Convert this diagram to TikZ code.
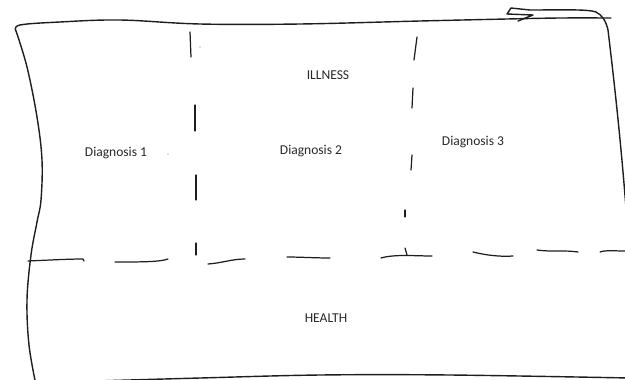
\documentclass[tikz,border=0pt]{standalone}
\usepackage{fontspec}
\setmainfont{Carlito}
\usepackage{xcolor}
\usepackage{tikz}
\usetikzlibrary{positioning, calc}
\definecolor{pencil}{RGB}{30, 30, 30}
\definecolor{printed}{RGB}{40, 40, 40}

\tikzset{
    pen/.style={line width=0.8pt, line cap=round, line join=round, pencil},
    dashpen/.style={line width=0.7pt, line cap=round, pencil},
    areatext/.style={font=\fontsize{7.7}{9}\selectfont, text=printed, inner sep=0pt}
}

\begin{document}
\begin{tikzpicture}[x=0.02cm, y=-0.02cm]
    \useasboundingbox (0,0) rectangle (625,379);
    \begin{scope}
    \clip (0,0) rectangle (625,379);
    % Outline
    \draw[pen] plot[smooth, tension=0.6] coordinates {(16,31) (27,67) (37,117) (42,160) (41,200) (37,222) (31,255) (27,300) (29,345) (36,385)};
    \draw[pen] plot[smooth, tension=0.6] coordinates {(16,31) (20,25) (60,22) (120,20) (200,24) (300,24) (420,21) (507,19) (560,18) (611,18)};
    \draw[pen] (518,21) -- (533,15) -- (507,14) -- (511,8) -- (530,10)
        .. controls (560,10) and (588,9) .. (596,12)
        .. controls (602,15) and (606,21) .. (608,30)
        .. controls (614,80) and (622,150) .. (628,235);
    \draw[pen] plot[smooth, tension=0.6] coordinates {(95,381) (200,378) (320,375) (450,375) (630,378)};
    \end{scope}

    % Dashed line between illness and health
    \draw[dashpen] (28,261) .. controls (50,260) and (70,259) .. (83,259) -- (84,261);
    \draw[dashpen] (115,262) .. controls (140,262) and (160,262) .. (168,259);
    \draw[dashpen] (208,264) .. controls (222,263) and (232,259) .. (245,259);
    \draw[dashpen] (287,257) .. controls (300,257) and (315,258) .. (330,258);
    \draw[dashpen] (381,258) .. controls (395,254) and (415,256) .. (432,256);
    \draw[dashpen] (405,248) -- (407,255);
    \draw[dashpen] (473,252) .. controls (485,255) and (500,257) .. (513,256);
    \draw[dashpen] (537,250) .. controls (550,252) and (565,250) .. (578,252);
    \draw[dashpen] (600,252) .. controls (605,250) and (615,251) .. (625,251);

    % Dashed lines between diagnoses
    \draw[dashpen] (190,32) -- (191,57);
    \draw[dashpen] (195,105) -- (195,131);
    \draw[dashpen] (196,175) -- (196,200);
    \draw[dashpen] (196,243) -- (196,255);
    \draw[dashpen] (417,37) -- (414,60);
    \draw[dashpen] (413,88) -- (412,108);
    \draw[dashpen] (412,155) -- (411,170);
    \draw[dashpen] (405,210) -- (405,217);
    \fill[pencil!60] (200,47) circle (0.6);
    \fill[pencil!60] (168,154) circle (0.6);

    % Labels
    \node[areatext] (illness) at (328,75) {ILLNESS};
    \node[areatext] (diag1) at (116,153) {Diagnosis 1};
    \node[areatext] (diag2) at (311,151) {Diagnosis 2};
    \node[areatext] (diag3) at (473,142) {Diagnosis 3};
    \node[areatext] (health) at (326,318) {HEALTH};
\end{tikzpicture}
\end{document}
